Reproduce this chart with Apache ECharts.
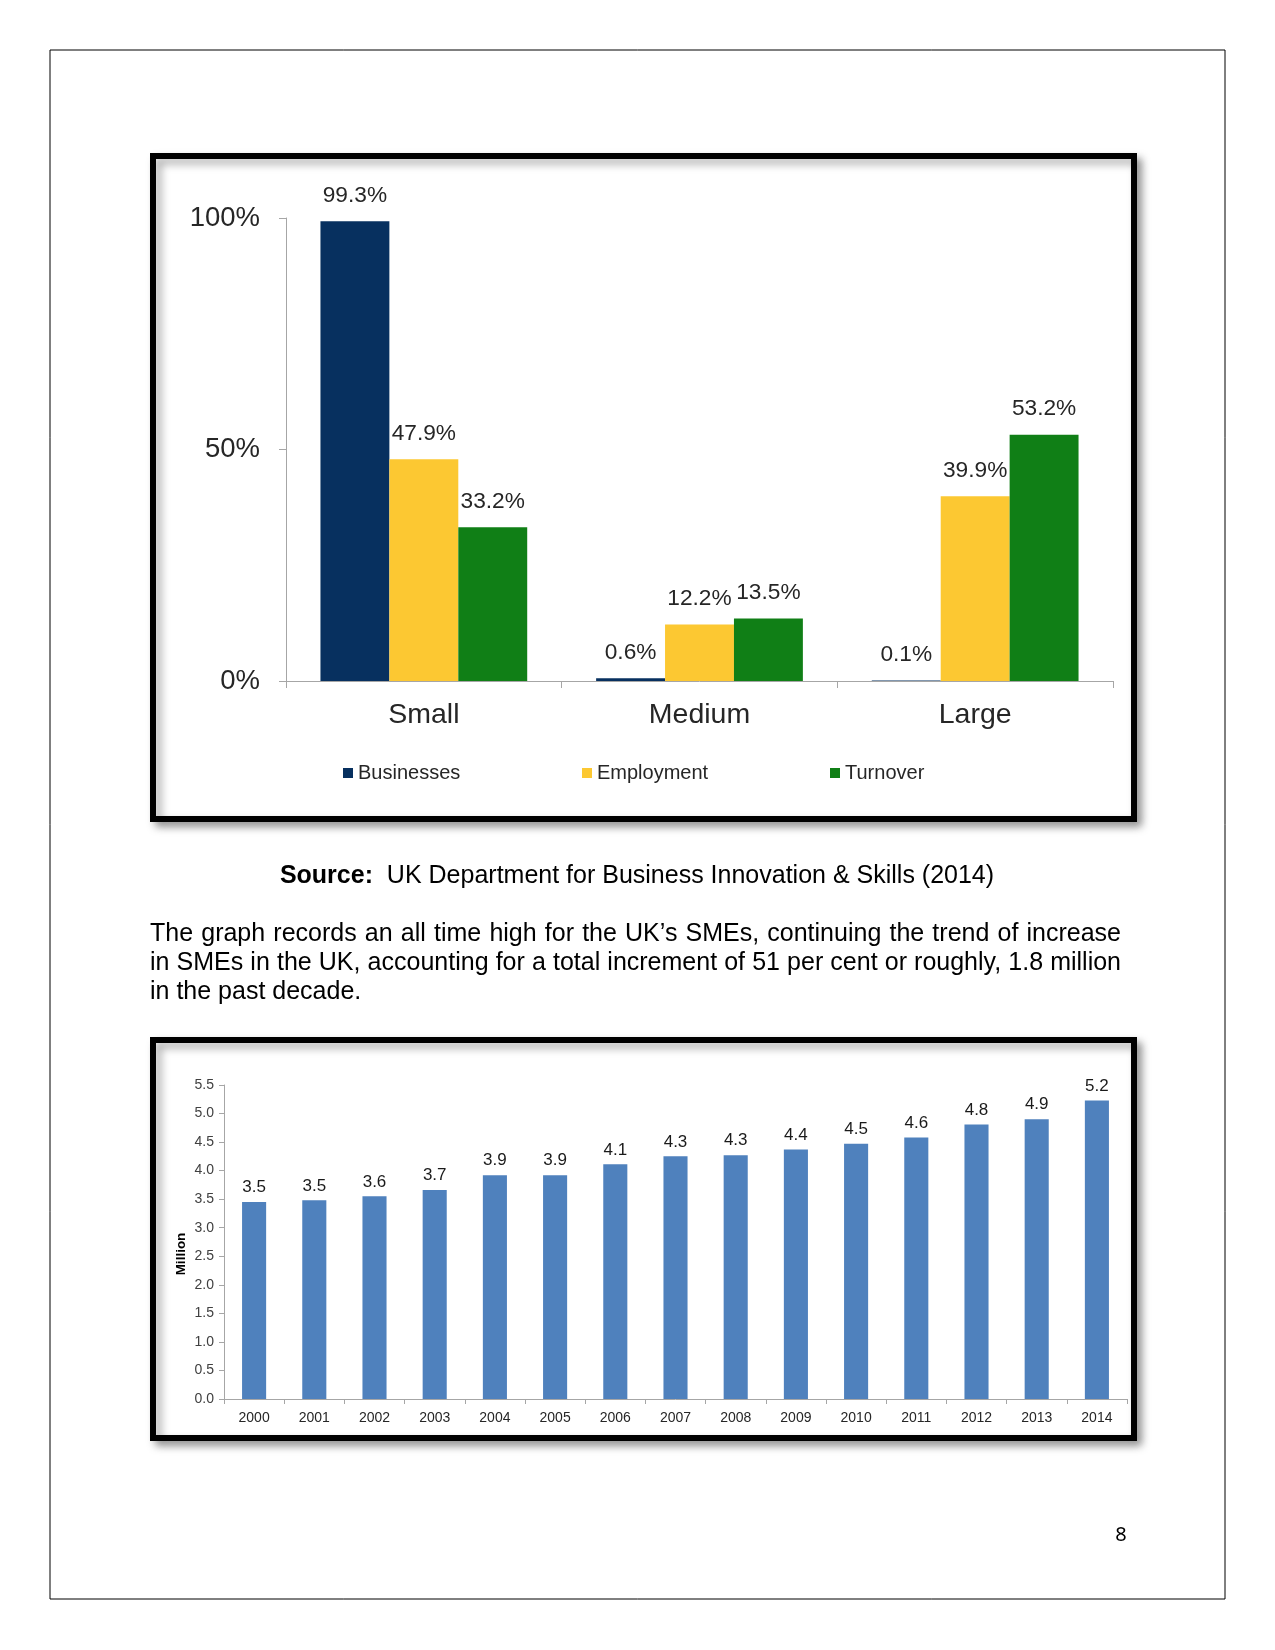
<!DOCTYPE html>
<html>
<head>
<meta charset="utf-8">
<script src="https://cdn.jsdelivr.net/npm/echarts@6/dist/echarts.min.js"></script>
<style>
html,body{margin:0;padding:0;background:#fff;}
#page{width:1275px;height:1650px;}
</style>
</head>
<body>
<div id="page"></div>
<script>
// ---- Chart 1 data ----
const sizeCategories = ['Small', 'Medium', 'Large'];
const businesses = [99.3, 0.6, 0.1];
const employment = [47.9, 12.2, 39.9];
const turnover = [33.2, 13.5, 53.2];

// ---- Chart 2 data ----
const years = ['2000','2001','2002','2003','2004','2005','2006','2007','2008','2009','2010','2011','2012','2013','2014'];
const smeMillions = [3.45, 3.48, 3.55, 3.66, 3.92, 3.92, 4.11, 4.25, 4.27, 4.37, 4.47, 4.58, 4.81, 4.90, 5.23];
const smeLabels = ['3.5','3.5','3.6','3.7','3.9','3.9','4.1','4.3','4.3','4.4','4.5','4.6','4.8','4.9','5.2'];

// ---- Page text ----
const bodyLines = [
  'The graph records an all time high for the UK\u2019s SMEs, continuing the trend of increase',
  'in SMEs in the UK, accounting for a total increment of 51 per cent or roughly, 1.8 million',
  'in the past decade.'
];

const FONT = 'Liberation Sans, Arial, sans-serif';
const TXT = '#262626';
const AXIS = '#a6a6a6';

const chart = echarts.init(document.getElementById('page'), null, {renderer: 'canvas', width: 1275, height: 1650});

function pctLabel(p) { return p.value + '%'; }

// justified paragraph: place words individually
const measureCtx = document.createElement('canvas').getContext('2d');
measureCtx.font = '25px "Liberation Sans", Arial, sans-serif';
const bodyLeft = 150, bodyWidth = 971, bodyTop = 934, bodyLineH = 29;
const bodyGraphics = [];
bodyLines.forEach((line, li) => {
  const y = bodyTop + li * bodyLineH;
  const justify = li < bodyLines.length - 1;
  if (!justify) {
    bodyGraphics.push({type: 'text', x: bodyLeft, y: y, style: {text: line, fontFamily: FONT, fontSize: 25, fill: '#000', align: 'left', verticalAlign: 'middle'}});
    return;
  }
  const words = line.split(' ');
  const widths = words.map(w => measureCtx.measureText(w).width);
  const total = widths.reduce((a, b) => a + b, 0);
  const gap = (bodyWidth - total) / (words.length - 1);
  let x = bodyLeft;
  words.forEach((w, i) => {
    bodyGraphics.push({type: 'text', x: x, y: y, style: {text: w, fontFamily: FONT, fontSize: 25, fill: '#000', align: 'left', verticalAlign: 'middle'}});
    x += widths[i] + gap;
  });
});

const legendBase = {
  orient: 'horizontal', top: 763, icon: 'rect', itemWidth: 10, itemHeight: 10,
  textStyle: {fontFamily: FONT, fontSize: 20, color: TXT}, selectedMode: false, padding: 0
};

const option = {
  animation: false,
  backgroundColor: '#fff',
  textStyle: {fontFamily: FONT},
  graphic: [
    {type: 'rect', z: -10, shape: {x: 50, y: 50, width: 1175, height: 1549}, style: {fill: '#fff', stroke: '#000', lineWidth: 1}},
    {type: 'rect', z: -5, shape: {x: 153, y: 156, width: 981, height: 663},
      style: {fill: '#fff', stroke: '#000', lineWidth: 6, shadowColor: 'rgba(0,0,0,0.35)', shadowBlur: 8, shadowOffsetX: 5, shadowOffsetY: 5}},
    {type: 'rect', z: -5, shape: {x: 153, y: 1040, width: 981, height: 398},
      style: {fill: '#fff', stroke: '#000', lineWidth: 6, shadowColor: 'rgba(0,0,0,0.35)', shadowBlur: 8, shadowOffsetX: 5, shadowOffsetY: 5}},
    {type: 'text', x: 637, y: 876, style: {
      text: '{b|Source:}{n|  UK Department for Business Innovation & Skills (2014)}',
      align: 'center', verticalAlign: 'middle', fill: '#000',
      rich: {
        b: {fontFamily: FONT, fontSize: 25, fontWeight: 'bold', fill: '#000'},
        n: {fontFamily: FONT, fontSize: 25, fill: '#000'}
      }
    }},
    {type: 'text', x: 1121, y: 1535, style: {text: '8', fontFamily: 'Noto Sans, sans-serif', fontSize: 20, fill: '#000', align: 'center', verticalAlign: 'middle'}},
    {type: 'text', x: 181, y: 1254, rotation: Math.PI / 2, style: {text: 'Million', fontFamily: FONT, fontSize: 13.5, fontWeight: 'bold', fill: '#000', align: 'center', verticalAlign: 'middle'}}
  ].concat(bodyGraphics),
  legend: [
    Object.assign({}, legendBase, {left: 343, data: ['Businesses']}),
    Object.assign({}, legendBase, {left: 582, data: ['Employment']}),
    Object.assign({}, legendBase, {left: 830, data: ['Turnover']})
  ],
  grid: [
    {left: 286, top: 218, width: 827, height: 463, containLabel: false, outerBoundsMode: 'none'},
    {left: 224, top: 1085, width: 903, height: 314, containLabel: false, outerBoundsMode: 'none'}
  ],
  xAxis: [
    {type: 'category', gridIndex: 0, data: sizeCategories,
      axisLine: {lineStyle: {color: AXIS, width: 1}},
      axisTick: {show: true, length: 7, lineStyle: {color: AXIS}},
      axisLabel: {fontFamily: FONT, fontSize: 28.5, color: TXT, margin: 20}},
    {type: 'category', gridIndex: 1, data: years,
      axisLine: {lineStyle: {color: AXIS, width: 1}},
      axisTick: {show: true, length: 5, lineStyle: {color: AXIS}},
      axisLabel: {fontFamily: FONT, fontSize: 14, color: TXT, margin: 12, interval: 0}}
  ],
  yAxis: [
    {type: 'value', gridIndex: 0, min: 0, max: 100, interval: 50,
      axisLine: {show: true, lineStyle: {color: AXIS, width: 1}},
      axisTick: {show: true, length: 7, lineStyle: {color: AXIS}},
      splitLine: {show: false},
      axisLabel: {formatter: '{value}%', fontFamily: FONT, fontSize: 27.5, color: TXT, margin: 26}},
    {type: 'value', gridIndex: 1, min: 0, max: 5.5, interval: 0.5,
      axisLine: {show: true, lineStyle: {color: AXIS, width: 1}},
      axisTick: {show: true, length: 5, lineStyle: {color: AXIS}},
      splitLine: {show: false},
      axisLabel: {formatter: v => v.toFixed(1), fontFamily: FONT, fontSize: 14, color: '#404040', margin: 10}}
  ],
  series: [
    {name: 'Businesses', type: 'bar', xAxisIndex: 0, yAxisIndex: 0, data: businesses,
      itemStyle: {color: '#07305f'}, barGap: '0%', barCategoryGap: '25%',
      label: {show: true, position: 'top', distance: 14, formatter: pctLabel, fontFamily: FONT, fontSize: 22.7, color: TXT}},
    {name: 'Employment', type: 'bar', xAxisIndex: 0, yAxisIndex: 0, data: employment,
      itemStyle: {color: '#fcc832'}, barGap: '0%', barCategoryGap: '25%',
      label: {show: true, position: 'top', distance: 14, formatter: pctLabel, fontFamily: FONT, fontSize: 22.7, color: TXT}},
    {name: 'Turnover', type: 'bar', xAxisIndex: 0, yAxisIndex: 0, data: turnover,
      itemStyle: {color: '#107f16'}, barGap: '0%', barCategoryGap: '25%',
      label: {show: true, position: 'top', distance: 14, formatter: pctLabel, fontFamily: FONT, fontSize: 22.7, color: TXT}},
    {name: 'SMEs', type: 'bar', xAxisIndex: 1, yAxisIndex: 1, data: smeMillions,
      itemStyle: {color: '#4f81bd'}, barWidth: '40%',
      label: {show: true, position: 'top', distance: 6, formatter: p => smeLabels[p.dataIndex], fontFamily: FONT, fontSize: 17, color: '#1a1a1a'}}
  ]
};

chart.setOption(option);
</script>
</body>
</html>
